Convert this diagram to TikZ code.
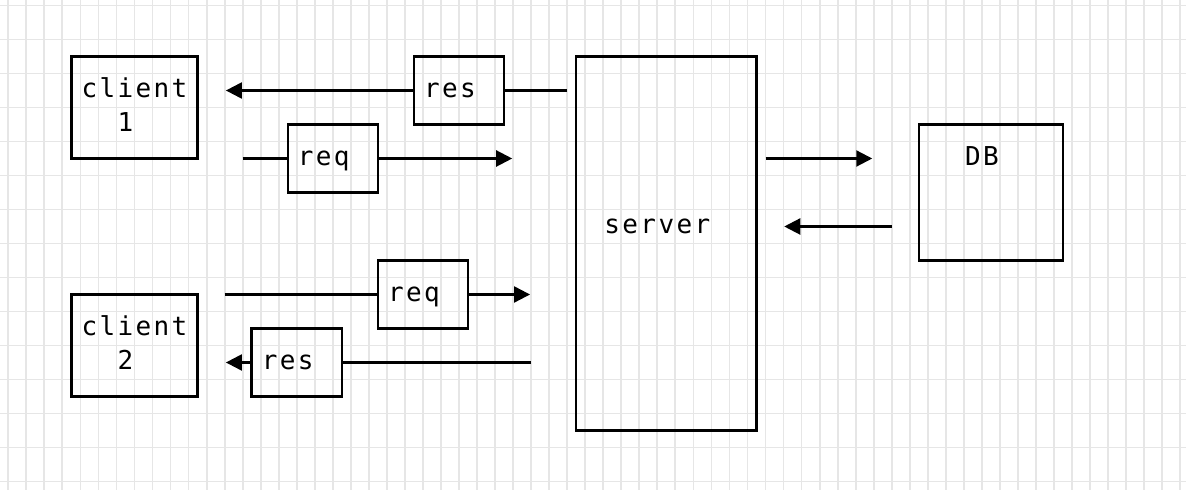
\documentclass[tikz,border=0pt]{standalone}
\usepackage{fontspec}
\setmonofont{DejaVu Sans Mono}
\usetikzlibrary{arrows.meta,fit}
\definecolor{gridgray}{RGB}{230,230,230}
\makeatletter
\newcommand\gridtext[1]{\@tfor\gt@c:=#1\do{\makebox[18.03pt]{\gt@c}}}
\makeatother
\begin{document}
\begin{tikzpicture}[x=18.03pt, y=-34pt,
  box/.style={draw, line width=2.4pt, inner sep=0pt},
  lbl/.style={font=\ttfamily\fontsize{26}{26}\selectfont, inner sep=0pt, anchor=base},
  conn/.style={line width=2.2pt},
  arr/.style={conn, -{Triangle[length=16pt,width=16pt]}},
  gridline/.style={draw=gridgray, line width=1.8pt}]
\useasboundingbox (-0.9595,-0.6618) rectangle (64.8225,13.75);
\fill[white] (-0.9595,-0.6618) rectangle (64.8225,13.75);
% grid
\foreach \k in {0,...,65}{\draw[gridline] (\k-0.5,-0.67) -- (\k-0.5,13.76);}
\foreach \j in {0,...,14}{\draw[gridline] (-0.97,\j-0.5) -- (64.83,\j-0.5);}
% boxes
\node[box, fit={(3,1) (10,4)}] (client1) {};
\node[box, fit={(3,8) (10,11)}] (client2) {};
\node[box, fit={(31,1) (41,12)}] (server) {};
\node[box, fit={(50,3) (58,7)}] (db) {};
\node[box, fit={(22,1) (27,3)}] (res1) {};
\node[box, fit={(15,3) (20,5)}] (req1) {};
\node[box, fit={(20,7) (25,9)}] (req2) {};
\node[box, fit={(13,9) (18,11)}] (res2) {};
% labels
\node[lbl] (t1a) at (6.5,2.21) {\gridtext{client}};
\node[lbl] (t1b) at (6,3.21) {\gridtext{1}};
\node[lbl] (t2a) at (6.5,9.21) {\gridtext{client}};
\node[lbl] (t2b) at (6,10.21) {\gridtext{2}};
\node[lbl] (tsv) at (35.5,6.21) {\gridtext{server}};
\node[lbl] (tdb) at (53.5,4.21) {\gridtext{DB}};
\node[lbl] (tr1) at (24,2.21) {\gridtext{res}};
\node[lbl] (tq1) at (17,4.21) {\gridtext{req}};
\node[lbl] (tq2) at (22,8.21) {\gridtext{req}};
\node[lbl] (tr2) at (15,10.21) {\gridtext{res}};
% free ends
\coordinate (r1from) at (30.5,2);
\coordinate (r1to) at (11.57,2);
\coordinate (q1from) at (12.5,4);
\coordinate (q1to) at (27.45,4);
\coordinate (sdfrom) at (41.5,4);
\coordinate (sdto) at (47.42,4);
\coordinate (dsfrom) at (48.5,6);
\coordinate (dsto) at (42.54,6);
\coordinate (q2from) at (11.5,8);
\coordinate (q2to) at (28.44,8);
\coordinate (r2from) at (28.5,10);
\coordinate (r2to) at (11.57,10);
% connectors
\draw[conn] (r1from) -- (res1.east);
\draw[arr] (res1.west) -- (r1to);
\draw[conn] (q1from) -- (req1.west);
\draw[arr] (req1.east) -- (q1to);
\draw[arr] (sdfrom) -- (sdto);
\draw[arr] (dsfrom) -- (dsto);
\draw[conn] (q2from) -- (req2.west);
\draw[arr] (req2.east) -- (q2to);
\draw[conn] (r2from) -- (res2.east);
\draw[arr] (res2.west) -- (r2to);
\end{tikzpicture}
\end{document}
